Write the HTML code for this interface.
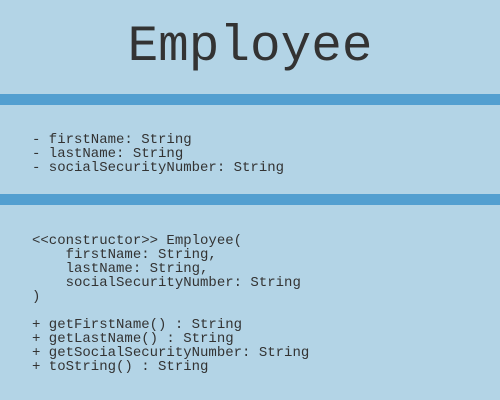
<!DOCTYPE html>
<html><head><style>
html,body{margin:0;padding:0}
body{width:500px;height:400px;background:#b3d4e6;position:relative;overflow:hidden;font-family:"Liberation Mono",monospace;color:#333}
.bar{position:absolute;left:0;width:500px;height:11px;background:#539fd0}
.t{position:absolute;left:0;width:500px;text-align:center;font-size:51px;line-height:50px;top:23px}
pre{position:absolute;left:32px;margin:0;font-family:"Liberation Mono",monospace;font-size:14px;line-height:14px;color:#333}
</style></head><body>
<div class="t">Employee</div>
<div class="bar" style="top:94px"></div>
<pre style="top:133px">- firstName: String
- lastName: String
- socialSecurityNumber: String</pre>
<div class="bar" style="top:194px"></div>
<pre style="top:234px">&lt;&lt;constructor&gt;&gt; Employee(
    firstName: String,
    lastName: String,
    socialSecurityNumber: String
)</pre>
<pre style="top:318px">+ getFirstName() : String
+ getLastName() : String
+ getSocialSecurityNumber: String
+ toString() : String</pre>
</body></html>
